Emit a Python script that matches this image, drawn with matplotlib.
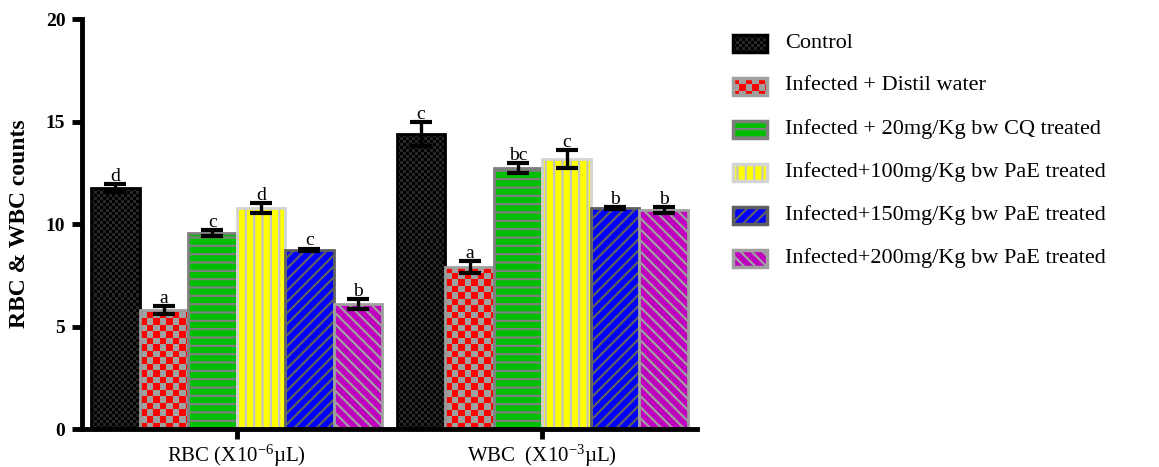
import numpy as np
import matplotlib
matplotlib.use("Agg")
import matplotlib.pyplot as plt
from matplotlib.colors import to_rgb

plt.rcParams["font.family"] = ["Liberation Serif", "DejaVu Serif"]
plt.rcParams["mathtext.fontset"] = "custom"
plt.rcParams["mathtext.rm"] = "Liberation Serif"
plt.rcParams["mathtext.it"] = "Liberation Serif:italic"
plt.rcParams["hatch.linewidth"] = 1.6

# ── Data ──────────────────────────────────────────────────────────────────
groups = ["RBC (X10$^{-6}$µL)", "WBC  (X10$^{-3}$µL)"]
treatments = ["Control",
              "Infected + Distil water",
              "Infected + 20mg/Kg bw CQ treated",
              "Infected+100mg/Kg bw PaE treated",
              "Infected+150mg/Kg bw PaE treated",
              "Infected+200mg/Kg bw PaE treated"]
rbc_mean = [11.76, 5.80, 9.55, 10.77, 8.73, 6.10]
rbc_sem = [0.20, 0.18, 0.15, 0.25, 0.07, 0.25]
wbc_mean = [14.40, 7.90, 12.72, 13.18, 10.78, 10.68]
wbc_sem = [0.58, 0.30, 0.24, 0.43, 0.06, 0.13]
rbc_letters = ["d", "a", "c", "d", "c", "b"]
wbc_letters = ["c", "a", "bc", "c", "b", "b"]

# ── Styles ────────────────────────────────────────────────────────────────
face_colors = ["#000000", "#ff0000", "#00bf00", "#ffff00", "#0000ff", "#bf00bf"]
edge_colors = ["#000000", "#a0a0a0", "#7f7f7f", "#d4d4d4", "#5f5f5f", "#a0a0a0"]
# (kind, pattern / cell size px, pattern colour)
patterns = [("checker", 3.0, "#262626"),
            ("checker", 6.5, "#a0a0a0"),
            ("hatch", "--", "#7f7f7f"),
            ("hatch", "||", "#c4c4c4"),
            ("hatch", "///", "#606060"),
            ("hatch", "\\\\\\", "#a0a0a0")]


def px_per_unit(ax):
    o = ax.transData.transform((0, 0))
    sx = abs(ax.transData.transform((1, 0))[0] - o[0])
    sy = abs(ax.transData.transform((0, 1))[1] - o[1])
    return sx, sy


def checker(ax, x0, y0, w, h, c1, c2, cell, clip, z):
    sx, sy = px_per_unit(ax)
    cx, cy = cell / sx, cell / sy
    nx, ny = int(np.ceil(w / cx)), int(np.ceil(h / cy))
    grid = np.add.outer(np.arange(ny), np.arange(nx)) % 2
    rgb = np.where(grid[..., None] == 0, to_rgb(c1), to_rgb(c2))
    im = ax.imshow(rgb, extent=(x0, x0 + nx * cx, y0, y0 + ny * cy),
                   origin="lower", interpolation="nearest", aspect="auto",
                   zorder=z)
    im.set_clip_path(clip)


def patterned_rect(ax, x0, y0, w, h, i, lw):
    kind, pat, pcol = patterns[i]
    if kind == "checker":
        r = plt.Rectangle((x0, y0), w, h, facecolor=face_colors[i],
                          linewidth=0, zorder=2)
        ax.add_patch(r)
        checker(ax, x0, y0, w, h, face_colors[i], pcol, pat, r, 2.1)
    else:
        ax.add_patch(plt.Rectangle((x0, y0), w, h, facecolor=face_colors[i],
                                   edgecolor=pcol, hatch=pat, linewidth=0,
                                   zorder=2))
    ax.add_patch(plt.Rectangle((x0, y0), w, h, fill=False,
                               edgecolor=edge_colors[i], linewidth=lw,
                               zorder=2.2))


fig = plt.figure(figsize=(11.59, 4.67), dpi=100)
ax = fig.add_axes([82 / 1159, 1 - 429 / 467, 615 / 1159, 410 / 467])
ax.set_xlim(-3.19, 9.49)
ax.set_ylim(0, 20)

group_x = np.array([0.0, 6.3])
bar_w = 1.0
offsets = np.arange(len(treatments)) - 2.5

for gx, means, sems, letters in zip(group_x, [rbc_mean, wbc_mean],
                                    [rbc_sem, wbc_sem],
                                    [rbc_letters, wbc_letters]):
    xs = gx + offsets
    for i, (x, m) in enumerate(zip(xs, means)):
        patterned_rect(ax, x - bar_w / 2, 0, bar_w, m, i, 2.0)
    ax.errorbar(xs, means, yerr=sems, fmt="none", ecolor="black",
                elinewidth=2.4, capsize=8, capthick=3, zorder=3)
    for x, m, s, t in zip(xs, means, sems, letters):
        ax.text(x, m + s + 0.16, t, ha="center", va="baseline", fontsize=14)

ax.set_xticks(group_x)
ax.set_xticklabels(groups, fontsize=15)
ax.set_yticks([0, 5, 10, 15, 20])
ax.tick_params(axis="x", length=7, width=3.5, pad=3)
ax.tick_params(axis="y", length=7, width=3.5, pad=5, labelsize=14)
for lbl in ax.get_yticklabels():
    lbl.set_fontweight("bold")
for side in ["top", "right"]:
    ax.spines[side].set_visible(False)
for side in ["left", "bottom"]:
    ax.spines[side].set_linewidth(3.5)
ax.set_ylabel("RBC & WBC counts", fontsize=17, fontweight="bold")
ax.yaxis.set_label_coords(-0.084, 0.5)

# ── Legend drawn in pixel space ───────────────────────────────────────────
lax = fig.add_axes([0, 0, 1, 1])
lax.set_xlim(0, 1159)
lax.set_ylim(467, 0)
lax.axis("off")
for i, name in enumerate(treatments):
    yc = 43 + i * 43
    patterned_rect(lax, 733, yc - 8, 34, 17, i, 2.5)
    lax.text(785, yc, name, ha="left", va="center", fontsize=16)

fig.savefig("out.png", dpi=100)
